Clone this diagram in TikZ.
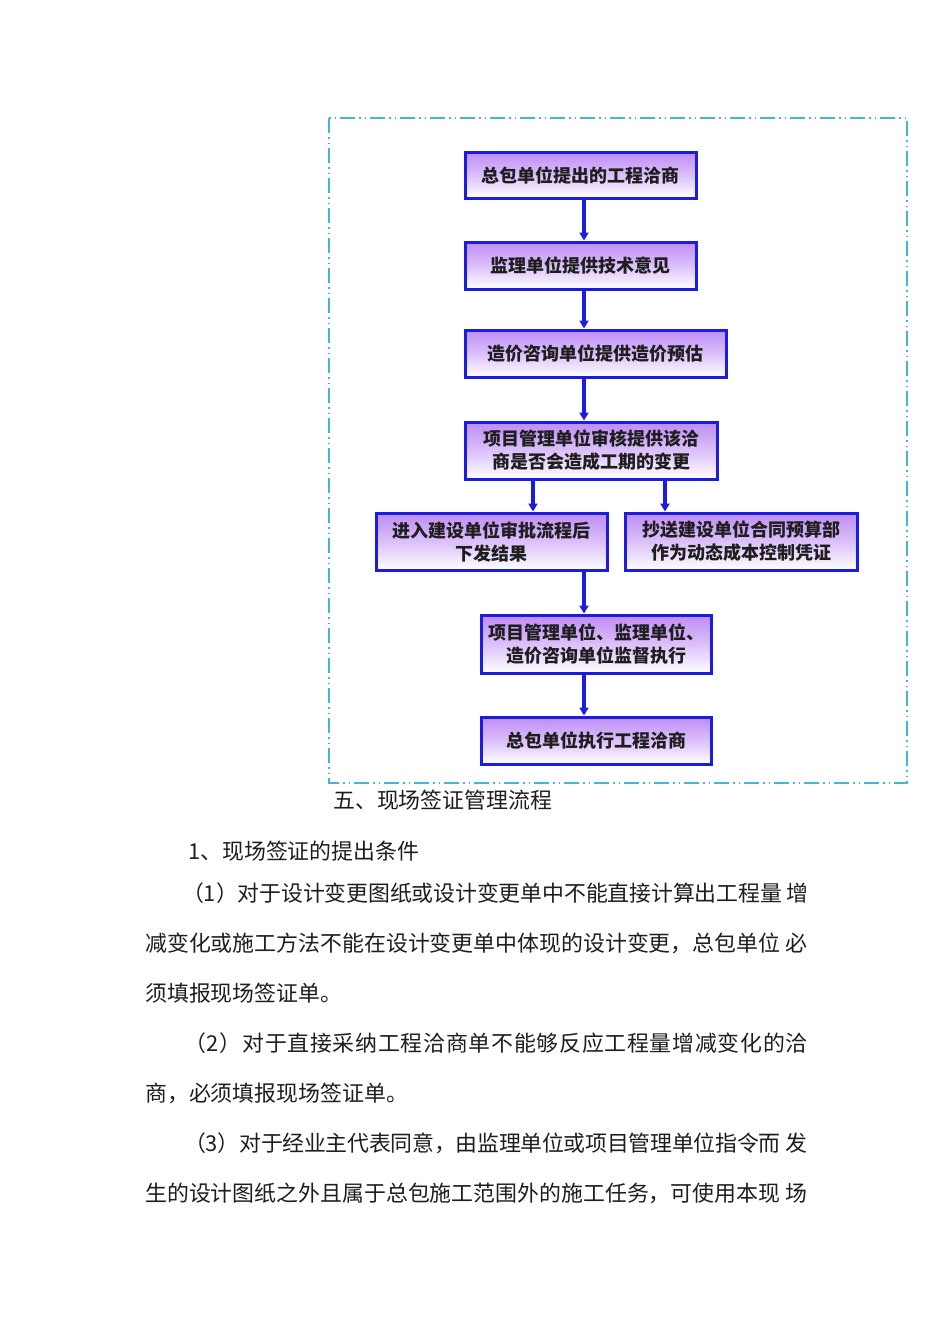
\documentclass[tikz,border=0pt]{standalone}
\usepackage{fontspec}
\newfontfamily\cjk{Noto Sans CJK SC}
\usetikzlibrary{arrows.meta}
\definecolor{boxblue}{RGB}{28,28,224}
\definecolor{boxtop}{RGB}{190,140,245}
\definecolor{framecol}{RGB}{70,180,212}
\definecolor{ink}{RGB}{30,30,30}
\tikzset{
  flowbox/.style={draw=boxblue, line width=3pt, top color=boxtop, bottom color=white,
    middle color=boxtop!55!white, text=ink, align=center, inner sep=0pt,
    font=\cjk\bfseries\fontsize{18}{23}\selectfont},
  flowarrow/.style={draw=boxblue, line width=3.2pt, -{Triangle[length=8pt,width=9pt]}},
  frameline/.style={draw=framecol, line width=2pt,
    dash pattern=on 15pt off 4pt on 1.5pt off 4pt on 1.5pt off 4pt},
  bodytext/.style={anchor=west, inner sep=0pt, text=ink,
    font=\cjk\fontsize{21.9}{26}\selectfont}
}
\begin{document}
\begin{tikzpicture}[x=1pt,y=-1pt]
\useasboundingbox (0,0) rectangle (950,1344);
\fill[white] (0,0) rectangle (950,1344);
% frame
\draw[frameline] (329,118) rectangle (907,783);
% boxes
\node[flowbox, minimum width=231pt, minimum height=46pt] (b1) at (580.5,175) {总包单位提出的工程洽商};
\node[flowbox, minimum width=231pt, minimum height=47pt] (b2) at (580.5,265.5) {监理单位提供技术意见};
\node[flowbox, minimum width=261pt, minimum height=47pt] (b3) at (595.5,353.5) {造价咨询单位提供造价预估};
\node[flowbox, minimum width=252pt, minimum height=57pt] (b4) at (591,450.5) {项目管理单位审核提供该洽\\商是否会造成工期的变更};
\node[flowbox, minimum width=231pt, minimum height=57pt] (b5) at (491.5,541.5) {进入建设单位审批流程后\\下发结果};
\node[flowbox, minimum width=232pt, minimum height=57pt] (b6) at (741,541.5) {抄送建设单位合同预算部\\作为动态成本控制凭证};
\node[flowbox, minimum width=230pt, minimum height=58pt] (b7) at (596,644) {项目管理单位、监理单位、\\造价咨询单位监督执行};
\node[flowbox, minimum width=230pt, minimum height=47pt] (b8) at (596,740.5) {总包单位执行工程洽商};
% arrow columns
\coordinate (mx) at (584,0);
\coordinate (lx) at (533,0);
\coordinate (rx) at (665,0);
\draw[flowarrow] (b1.south -| mx) -- (b2.north -| mx);
\draw[flowarrow] (b2.south -| mx) -- (b3.north -| mx);
\draw[flowarrow] (b3.south -| mx) -- (b4.north -| mx);
\draw[flowarrow] (b4.south -| lx) -- (b5.north -| lx);
\draw[flowarrow] (b4.south -| rx) -- (b6.north -| rx);
\draw[flowarrow] (b5.south -| mx) -- (b7.north -| mx);
\draw[flowarrow] (b7.south -| mx) -- (b8.north -| mx);
% body text
\node[bodytext] (t0) at (333,800) {五、现场签证管理流程};
\node[bodytext] (t1) at (188,851) {1、现场签证的提出条件};
\node[bodytext] (t2) at (182,893) {\addfontfeature{LetterSpace=-0.6}（1）对于设计变更图纸或设计变更单中不能直接计算出工程量 增};
\node[bodytext] (t3) at (145,943) {减变化或施工方法不能在设计变更单中体现的设计变更，总包单位 必};
\node[bodytext] (t4) at (145,993) {须填报现场签证单。};
\node[bodytext] (t5) at (184,1043) {\addfontfeature{LetterSpace=3.4}（2）对于直接采纳工程洽商单不能够反应工程量增减变化的洽};
\node[bodytext] (t6) at (145,1093) {商，必须填报现场签证单。};
\node[bodytext] (t7) at (184,1143) {\addfontfeature{LetterSpace=-1.2}（3）对于经业主代表同意，由监理单位或项目管理单位指令而 发};
\node[bodytext] (t8) at (145,1193) {生的设计图纸之外且属于总包施工范围外的施工任务，可使用本现 场};
\end{tikzpicture}
\end{document}
